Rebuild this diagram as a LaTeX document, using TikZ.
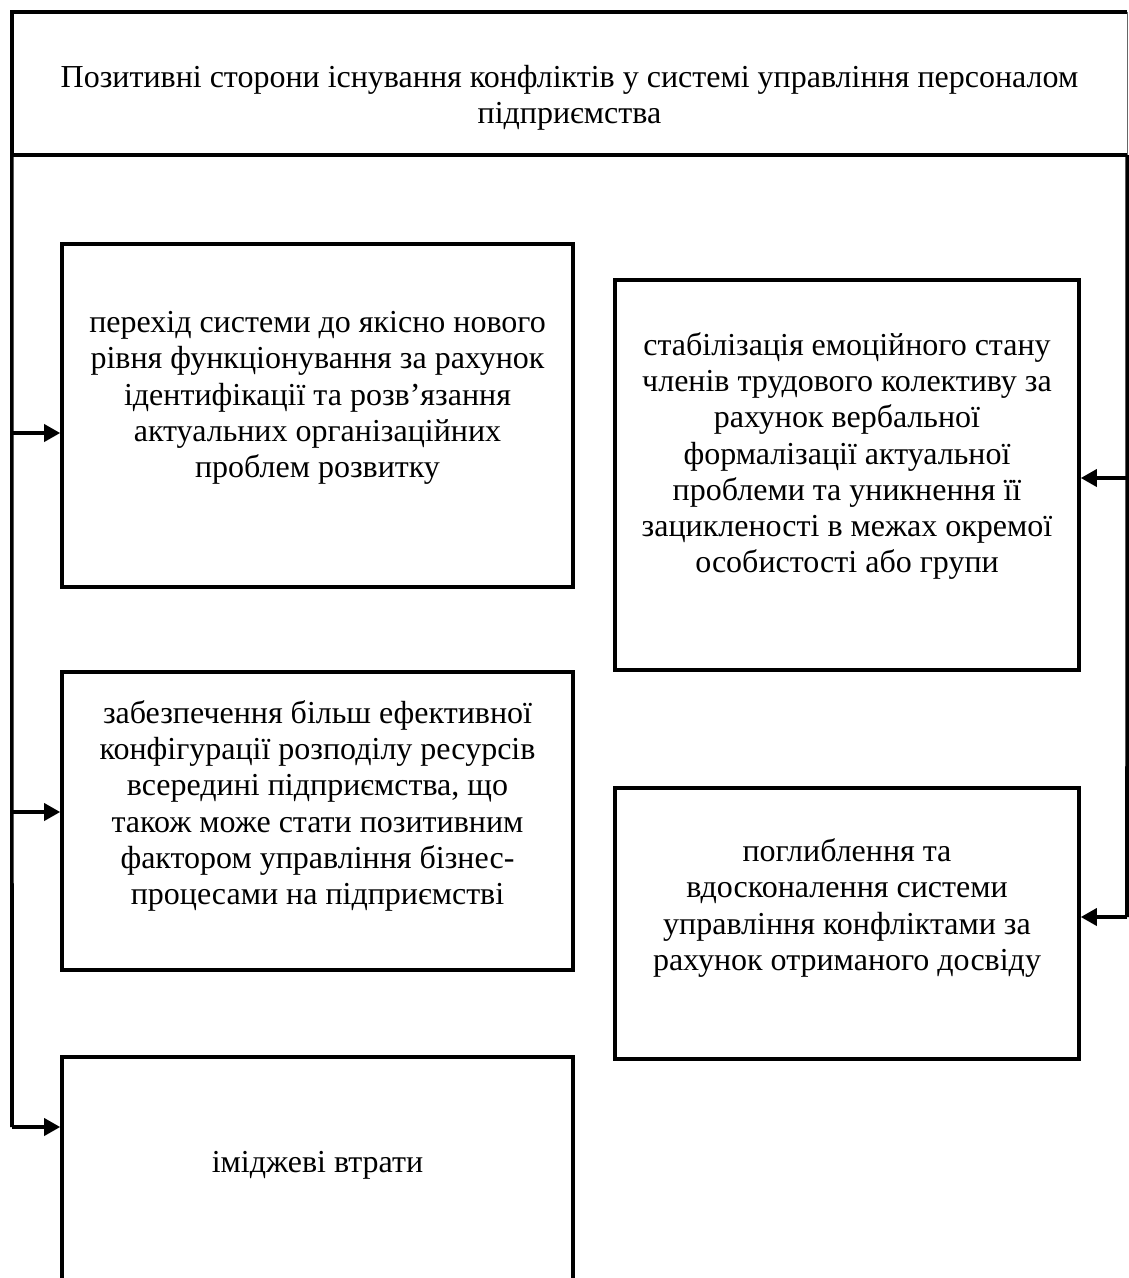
\documentclass[tikz,border=0pt]{standalone}
\usepackage{fontspec}
\setmainfont{Liberation Serif}
\usetikzlibrary{arrows.meta}
\begin{document}
\begin{tikzpicture}[x=1pt,y=-1pt,
  frame/.style={draw, line width=3.6pt, rectangle, inner sep=0pt},
  txt/.style={align=center, font=\fontsize{32}{36.2}\selectfont, inner sep=0pt},
  conn/.style={line width=3.6pt},
  arr/.style={line width=3.6pt, -{Triangle[length=16pt,width=17pt]}}]
\useasboundingbox (0,0) rectangle (1129,1278);
\clip (0,0) rectangle (1129,1278);
% title box
\node[inner sep=0pt, minimum width=1115pt, minimum height=143pt] (title) at (569.5,83.5) {};
\draw[conn] (title.north east) -- (title.north west) -- (title.south west) -- (title.south east);
\draw[line width=1pt, black!60] (title.north east) -- (title.south east);
\node[txt] (titletext) at (569.5,98) {Позитивні сторони існування конфліктів у системі управління персоналом\\підприємства};
% boxes
\node[frame, minimum width=511pt, minimum height=343pt] (b1) at (317.5,415.5) {};
\node[frame, minimum width=511pt, minimum height=298pt] (b2) at (317.5,821) {};
\node[frame, minimum width=511pt, minimum height=263pt] (b3) at (317.5,1188.5) {};
\node[frame, minimum width=464pt, minimum height=390pt] (b4) at (847,475) {};
\node[frame, minimum width=464pt, minimum height=271pt] (b5) at (847,923.5) {};
% texts
\node[txt] (t1) at (317.5,398) {перехід системи до якісно нового\\рівня функціонування за рахунок\\ідентифікації та розв’язання\\актуальних організаційних\\проблем розвитку};
\node[txt] (t2) at (317.5,806) {забезпечення більш ефективної\\конфігурації розподілу ресурсів\\всередині підприємства, що\\також може стати позитивним\\фактором управління бізнес-\\процесами на підприємстві};
\node[txt] (t3) at (317.5,1165) {іміджеві втрати};
\node[txt] (t4) at (847,456) {стабілізація емоційного стану\\членів трудового колективу за\\рахунок вербальної\\формалізації актуальної\\проблеми та уникнення її\\зацикленості в межах окремої\\особистості або групи};
\node[txt] (t5) at (847,908) {поглиблення та\\вдосконалення системи\\управління конфліктами за\\рахунок отриманого досвіду};
% connectors
\coordinate (L1) at (12,433);
\coordinate (L2) at (12,812);
\coordinate (L3) at (12,1127);
\coordinate (R1) at (1127,478);
\coordinate (R2) at (1127,917);
\draw[conn] (title.south west) -- (L3);
\draw[conn] (title.south east) -- (R2);
\draw[arr] (L1) -- (L1 -| b1.west);
\draw[arr] (L2) -- (L2 -| b2.west);
\draw[arr] (L3) -- (L3 -| b3.west);
\draw[arr] (R1) -- (R1 -| b4.east);
\draw[arr] (R2) -- (R2 -| b5.east);
\end{tikzpicture}
\end{document}
